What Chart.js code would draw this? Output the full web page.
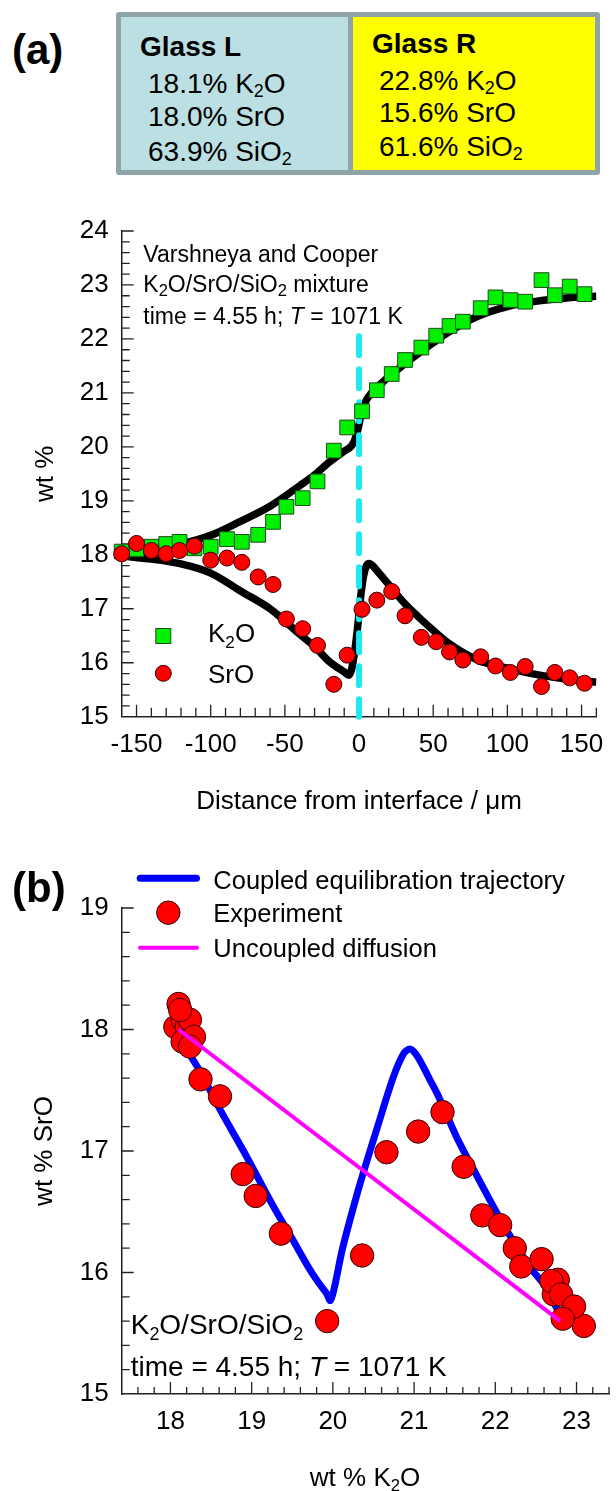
<!DOCTYPE html>
<html>
<head>
<meta charset="utf-8">
<script src="https://cdn.jsdelivr.net/npm/chart.js@4.4.0/dist/chart.umd.min.js"></script>
<style>
  body { margin: 0; width: 616px; height: 1491px; position: relative; background: #fff; overflow: hidden;
         font-family: 'Liberation Sans', Arial, sans-serif; color: #000; }
  .t { position: absolute; white-space: nowrap; line-height: 1; font-size: 28px; z-index: 2; }
  .t sub { font-size: 0.64em; vertical-align: -0.24em; line-height: 0; }
  .b { font-weight: bold; }
  .panel { position: absolute; font-weight: bold; font-size: 42px; line-height: 1; z-index: 2; }
  canvas { position: absolute; left: 0; }
  .glass { position: absolute; top: 12px; height: 163px; box-sizing: border-box; border: 5px solid #8fa4a7; }
  #boxL { left: 116px; width: 237px; background: #bbdfe2; border-radius: 3px 0 0 3px; }
  #boxR { left: 348px; width: 252px; background: #ffff00; border-radius: 0 3px 3px 0; }
</style>
</head>
<body>
<div class="panel" style="left:12px; top:29px">(a)</div>
<div class="glass" id="boxL"></div>
<div class="glass" id="boxR"></div>
<div class="t b" id="nameL" style="left:140px; top:33px"></div>
<div class="t" id="k2oL" style="left:148px; top:70px"></div>
<div class="t" id="sroL" style="left:148px; top:103px"></div>
<div class="t" id="sio2L" style="left:148px; top:138px"></div>
<div class="t b" id="nameR" style="left:372px; top:30px"></div>
<div class="t" id="k2oR" style="left:379px; top:67px"></div>
<div class="t" id="sroR" style="left:379px; top:99px"></div>
<div class="t" id="sio2R" style="left:379px; top:133px"></div>

<canvas id="chartA" width="616" height="640" style="top:190px"></canvas>
<canvas id="chartB" width="616" height="651" style="top:840px"></canvas>
<div class="panel" style="left:12px; top:867px">(b)</div>

<script>
// measured profiles across the diffusion couple
const distance = [-160, -150, -140, -130, -121, -111, -100, -89, -79, -68, -58, -49, -38, -28, -17, -8,
                  2, 12, 22, 31, 42, 52, 61, 70, 82, 92, 102, 112, 123, 132, 142, 152];
const k2o = [18.06, 18.1, 18.15, 18.2, 18.24, 18.12, 18.15, 18.29, 18.24, 18.37, 18.61, 18.89, 19.05, 19.36, 19.93, 20.36,
             20.66, 21.05, 21.35, 21.61, 21.84, 22.06, 22.24, 22.32, 22.57, 22.77, 22.72, 22.69, 23.09, 22.81, 22.97, 22.83];
const sro = [18.02, 18.21, 18.08, 18.02, 18.08, 18.16, 17.9, 17.94, 17.86, 17.59, 17.45, 16.81, 16.63, 16.32, 15.6, 16.14,
             16.99, 17.16, 17.32, 16.87, 16.47, 16.39, 16.2, 16.05, 16.11, 15.94, 15.82, 15.93, 15.56, 15.82, 15.72, 15.62];

// coupled model profiles
const modelDistance = [-160, -140, -120, -100, -80, -60, -40, -30, -20, -15, -10, -7, -5, -3, -1, 0, 1, 3, 5, 7,
                       9, 12, 16, 20, 30, 40, 50, 60, 80, 100, 120, 140, 160];
const modelK2O = [18.05, 18.1, 18.2, 18.36, 18.62, 18.9, 19.28, 19.48, 19.72, 19.82, 19.92, 19.97, 20.02, 20.12, 20.3, 20.42,
                  20.55, 20.74, 20.87, 20.95, 21.02, 21.1, 21.2, 21.3, 21.52, 21.73, 21.93, 22.12, 22.42, 22.6, 22.7, 22.76, 22.79];
const modelSrO = [17.98, 17.92, 17.83, 17.66, 17.33, 17.0, 16.53, 16.3, 16.02, 15.92, 15.83, 15.77, 15.88, 16.2, 16.65, 16.92,
                  17.2, 17.6, 17.8, 17.84, 17.8, 17.71, 17.58, 17.45, 17.12, 16.85, 16.6, 16.37, 16.05, 15.9, 15.78, 15.7, 15.64];

// the two starting glasses
const glassNames = ['Glass L', 'Glass R'];
const glassK2O = [18.1, 22.8];
const glassSrO = [18.0, 15.6];
const glassSiO2 = [63.9, 61.6];

// interface marker
const interfaceX = 0;
const interfaceTop = 22.05;

// tick labels
const ticksDistance = [-150, -100, -50, 0, 50, 100, 150];
const ticksWt = [15, 16, 17, 18, 19, 20, 21, 22, 23, 24];
const ticksK2O = [18, 19, 20, 21, 22, 23];
const ticksSrO = [15, 16, 17, 18, 19];

['L', 'R'].forEach((s, i) => {
  document.getElementById('name' + s).textContent = glassNames[i];
  document.getElementById('k2o' + s).innerHTML = glassK2O[i].toFixed(1) + '% K<sub>2</sub>O';
  document.getElementById('sro' + s).textContent = glassSrO[i].toFixed(1) + '% SrO';
  document.getElementById('sio2' + s).innerHTML = glassSiO2[i].toFixed(1) + '% SiO<sub>2</sub>';
});

const FAMILY = "'Liberation Sans', Arial, sans-serif";
const pts = (xs, ys) => xs.map((x, i) => ({ x, y: ys[i] }));

// text with _2 subscripts and *italic* runs
function drawRich(ctx, str, x, y, size, align, subScale) {
  const parts = str.split(/(_\d|\*[^*]+\*)/).filter(Boolean).map(s =>
    s[0] === '_' ? { t: s.slice(1), sub: true } : s[0] === '*' ? { t: s.slice(1, -1), it: true } : { t: s });
  const font = p => (p.it ? 'italic ' : '') + (p.sub ? size * (subScale || 0.68) : size) + 'px ' + FAMILY;
  let w = 0;
  parts.forEach(p => { ctx.font = font(p); p.w = ctx.measureText(p.t).width; w += p.w; });
  let cx = align === 'center' ? x - w / 2 : x;
  ctx.textAlign = 'left';
  ctx.textBaseline = 'alphabetic';
  ctx.fillStyle = '#000';
  parts.forEach(p => { ctx.font = font(p); ctx.fillText(p.t, cx, p.sub ? y + size * 0.2 : y); cx += p.w; });
}

// inward tick marks along both axes
function drawTicks(chart, spec) {
  const { ctx, chartArea: area } = chart;
  const xs = chart.scales.x, ys = chart.scales.y;
  ctx.save();
  ctx.strokeStyle = '#222';
  ctx.lineWidth = 1.3;
  ctx.beginPath();
  const run = (t, scale, horiz) => {
    const n = Math.round((t.to - t.from) / t.step);
    for (let i = 1; i <= n; i++) {
      const v = t.from + i * t.step;
      const len = t.majors.some(m => Math.abs(m - v) < 1e-6) ? t.major : t.minor;
      const p = scale.getPixelForValue(v);
      if (horiz) { ctx.moveTo(p, area.bottom); ctx.lineTo(p, area.bottom - len); }
      else { ctx.moveTo(area.left, p); ctx.lineTo(area.left + len, p); }
    }
  };
  run(spec.x, xs, true);
  run(spec.y, ys, false);
  ctx.stroke();
  ctx.restore();
}

function axisFont() { return { family: FAMILY, size: 26 }; }

function makeScale(min, max, ticks, pad, fit) {
  return {
    type: 'linear', min, max,
    grid: { display: false, drawTicks: false },
    border: { display: true, color: '#222', width: 1.5 },
    ticks: { color: '#000', font: axisFont(), padding: pad },
    afterBuildTicks: s => { s.ticks = ticks.map(v => ({ value: v })); },
    afterFit: fit
  };
}

// (a) concentration profiles
const scaleAx = makeScale(-160, 160, ticksDistance, 12.5, s => { s.height = 113.3; });
scaleAx.title = { display: true, text: 'Distance from interface / μm', color: '#000', font: axisFont(), padding: { bottom: 12.7 } };
const scaleAy = makeScale(15, 24, ticksWt, 13, s => { s.width = 121.7; });
scaleAy.title = { display: true, text: 'wt %', color: '#000', font: axisFont(), padding: { top: 30 } };

new Chart(document.getElementById('chartA'), {
  type: 'scatter',
  data: {
    datasets: [
      { label: 'SrO', data: pts(distance, sro), pointStyle: 'circle', pointRadius: 8,
        backgroundColor: '#ff0000', borderColor: '#330000', borderWidth: 1, order: 0, clip: false },
      { label: 'K2O', data: pts(distance, k2o), pointStyle: 'rect', pointRadius: 10.4,
        backgroundColor: '#00f000', borderColor: '#1d4a1d', borderWidth: 1, order: 1, clip: false },
      { label: 'interface', data: [{ x: interfaceX, y: interfaceTop }, { x: interfaceX, y: 15 }], showLine: true,
        borderColor: '#1ee8f2', borderWidth: 6, borderDash: [19, 14], borderCapStyle: 'round',
        pointRadius: 0, order: 2, clip: false },
      { label: 'SrO model', data: pts(modelDistance, modelSrO), showLine: true, borderColor: '#000', borderWidth: 7.5,
        borderJoinStyle: 'round', cubicInterpolationMode: 'monotone', pointRadius: 0, order: 3 },
      { label: 'K2O model', data: pts(modelDistance, modelK2O), showLine: true, borderColor: '#000', borderWidth: 7.5,
        borderJoinStyle: 'round', cubicInterpolationMode: 'monotone', pointRadius: 0, order: 4 }
    ]
  },
  options: {
    responsive: false, animation: false, events: [], devicePixelRatio: 1,
    layout: { autoPadding: false, padding: { top: 41, right: 8, left: 0, bottom: 0 } },
    plugins: { legend: { display: false }, tooltip: { enabled: false } },
    scales: { x: scaleAx, y: scaleAy }
  },
  plugins: [{
    id: 'decorA',
    beforeDatasetsDraw(chart) {
      drawTicks(chart, {
        x: { from: -160, to: 160, step: 10, majors: ticksDistance, major: 12, minor: 9 },
        y: { from: 15, to: 24, step: 0.2, majors: ticksWt, major: 12, minor: 8 }
      });
    },
    afterDraw(chart) {
      const ctx = chart.ctx;
      ctx.save();
      drawRich(ctx, 'Varshneya and Cooper', 143.3, 71.5, 23);
      drawRich(ctx, 'K_2O/SrO/SiO_2 mixture', 143.3, 101.5, 23, 'left', 0.72);
      drawRich(ctx, 'time = 4.55 h; *T* = 1071 K', 143.3, 133.9, 23);
      // legend
      ctx.fillStyle = '#00f000';
      ctx.strokeStyle = '#1d4a1d';
      ctx.lineWidth = 1;
      ctx.fillRect(155.8, 438.5, 15, 15);
      ctx.strokeRect(155.8, 438.5, 15, 15);
      ctx.beginPath();
      ctx.arc(163.3, 483.3, 8, 0, Math.PI * 2);
      ctx.fillStyle = '#ff0000';
      ctx.fill();
      ctx.strokeStyle = '#330000';
      ctx.stroke();
      drawRich(ctx, 'K_2O', 208, 452.3, 26, 'left', 0.66);
      drawRich(ctx, 'SrO', 208, 492.6, 26);
      ctx.restore();
    }
  }]
});

// (b) composition path
const scaleBx = makeScale(17.4, 23.4, ticksK2O, 12.2, s => { s.height = 97; });
const scaleBy = makeScale(15, 19, ticksSrO, 13, s => { s.width = 121.7; });
scaleBy.title = { display: true, text: 'wt % SrO', color: '#000', font: axisFont(), padding: { top: 29 } };

new Chart(document.getElementById('chartB'), {
  type: 'scatter',
  data: {
    datasets: [
      { label: 'Uncoupled diffusion', data: pts(glassK2O, glassSrO), showLine: true, borderColor: '#ff00ff',
        borderWidth: 4, pointRadius: 0, order: 0 },
      { label: 'Experiment', data: pts(k2o, sro), pointStyle: 'circle', pointRadius: 11.7,
        backgroundColor: '#ff0000', borderColor: '#330000', borderWidth: 1, order: 1, clip: false },
      { label: 'Coupled equilibration trajectory', data: pts(modelK2O, modelSrO), showLine: true,
        borderColor: '#0000ff', borderWidth: 7, borderJoinStyle: 'round', borderCapStyle: 'round',
        tension: 0.3, pointRadius: 0, order: 2 }
    ]
  },
  options: {
    responsive: false, animation: false, events: [], devicePixelRatio: 1,
    layout: { autoPadding: false, padding: { top: 68, right: 7, left: 0, bottom: 0 } },
    plugins: { legend: { display: false }, tooltip: { enabled: false } },
    scales: { x: scaleBx, y: scaleBy }
  },
  plugins: [{
    id: 'decorB',
    beforeDatasetsDraw(chart) {
      drawTicks(chart, {
        x: { from: 17.4, to: 23.4, step: 0.2, majors: ticksK2O, major: 12, minor: 7 },
        y: { from: 15, to: 19, step: 0.2, majors: ticksSrO, major: 12, minor: 8 }
      });
    },
    afterDraw(chart) {
      const ctx = chart.ctx;
      ctx.save();
      ctx.lineCap = 'round';
      ctx.strokeStyle = '#0000ff';
      ctx.lineWidth = 7;
      ctx.beginPath();
      ctx.moveTo(140.2, 38.3);
      ctx.lineTo(196.5, 38.3);
      ctx.stroke();
      ctx.strokeStyle = '#ff00ff';
      ctx.lineWidth = 4;
      ctx.beginPath();
      ctx.moveTo(140, 107.7);
      ctx.lineTo(197, 107.7);
      ctx.stroke();
      ctx.beginPath();
      ctx.arc(168.3, 72.7, 11.7, 0, Math.PI * 2);
      ctx.fillStyle = '#ff0000';
      ctx.fill();
      ctx.strokeStyle = '#330000';
      ctx.lineWidth = 1;
      ctx.stroke();
      drawRich(ctx, 'Coupled equilibration trajectory', 213.3, 48.5, 25.5);
      drawRich(ctx, 'Experiment', 213.3, 81.9, 25.5);
      drawRich(ctx, 'Uncoupled diffusion', 213.3, 116.9, 25.5);
      drawRich(ctx, 'K_2O/SrO/SiO_2', 130.7, 494, 28, 'left', 0.64);
      drawRich(ctx, 'time = 4.55 h; *T* = 1071 K', 130.7, 535.5, 28);
      drawRich(ctx, 'wt % K_2O', 365, 646, 26, 'center', 0.64);
      ctx.restore();
    }
  }]
});
</script>
</body>
</html>
